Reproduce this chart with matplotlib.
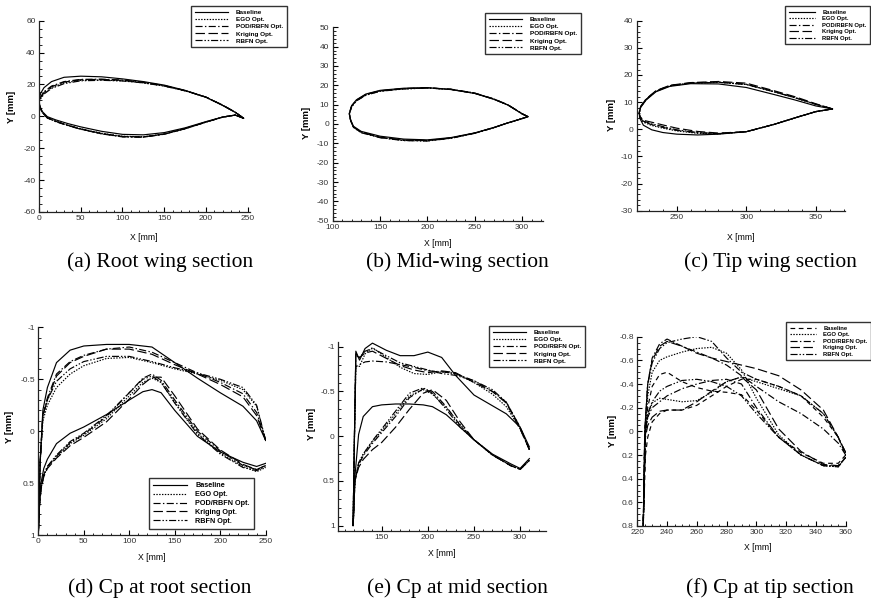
import matplotlib
matplotlib.use("Agg")
import matplotlib.pyplot as plt
from matplotlib.ticker import MultipleLocator, FormatStrFormatter

W, H = 871, 607

names = ["Baseline", "EGO Opt.", "POD/RBFN Opt.", "Kriging Opt.", "RBFN Opt."]

# ---- (a) root wing section, contour TE -> upper -> LE -> lower -> TE
root_x = [245, 235, 220, 200, 175, 150, 125, 100, 75, 50, 30, 15, 6, 2, 0,
          1, 4, 10, 20, 35, 50, 75, 100, 125, 150, 175, 200, 220, 235, 245]
root_base = [-1.2, 2.5, 6.8, 12.0, 16.3, 19.6, 21.8, 23.5, 24.8, 25.2, 24.5, 21.8, 18.0, 14.5, 10.0,
             6.5, 3.0, -0.2, -2.2, -4.6, -6.6, -9.4, -11.3, -11.6, -10.2, -7.2, -3.3, -0.4, 0.8, -1.2]
root_ego = [-1.2, 2.6, 7.0, 12.0, 16.0, 19.0, 21.0, 22.3, 22.8, 22.6, 21.0, 18.0, 14.5, 11.5, 9.0,
            6.0, 2.5, -0.8, -3.0, -5.6, -7.8, -10.6, -12.5, -12.8, -11.0, -7.6, -3.5, -0.5, 0.8, -1.2]
root_pod = [-1.2, 2.6, 7.0, 12.1, 16.2, 19.3, 21.4, 22.8, 23.3, 23.2, 21.8, 19.0, 15.5, 12.2, 9.2,
            6.0, 2.4, -1.0, -3.2, -5.8, -8.0, -10.9, -12.8, -13.0, -11.2, -7.8, -3.6, -0.5, 0.8, -1.2]
root_krig = [-1.2, 2.6, 7.0, 12.0, 16.1, 19.2, 21.3, 22.6, 23.2, 23.0, 21.5, 18.6, 15.0, 11.8, 9.1,
             6.0, 2.5, -0.9, -3.1, -5.7, -7.9, -10.8, -12.6, -12.9, -11.1, -7.7, -3.6, -0.5, 0.8, -1.2]
root_rbfn = [-1.2, 2.6, 7.0, 12.0, 16.0, 19.0, 21.0, 22.2, 22.6, 22.3, 20.5, 17.5, 14.0, 11.0, 8.8,
             5.8, 2.3, -1.0, -3.3, -5.9, -8.1, -11.0, -12.9, -13.1, -11.2, -7.8, -3.6, -0.5, 0.8, -1.2]

# ---- (b) mid-wing section
mid_x = [306, 300, 285, 270, 250, 225, 200, 175, 150, 135, 125, 120, 117.5,
         119, 122, 130, 150, 175, 200, 225, 250, 270, 285, 300, 306]
mid_base = [3.8, 5.2, 9.8, 12.8, 15.8, 17.8, 18.8, 18.5, 17.4, 15.5, 12.5, 9.5, 5.5,
            2.0, -1.2, -3.8, -6.3, -7.8, -8.2, -7.0, -4.6, -1.8, 0.6, 2.8, 3.8]
mid_ego = [3.8, 5.3, 9.9, 12.9, 15.9, 17.9, 18.6, 18.2, 17.0, 15.0, 12.0, 9.0, 5.2,
           1.6, -1.7, -4.4, -7.0, -8.5, -8.7, -7.3, -4.8, -1.9, 0.6, 2.8, 3.8]
mid_pod = [3.8, 5.3, 9.9, 13.0, 16.0, 18.0, 18.7, 18.3, 17.1, 15.2, 12.2, 9.2, 5.3,
           1.7, -1.6, -4.3, -6.9, -8.4, -8.6, -7.2, -4.7, -1.9, 0.6, 2.8, 3.8]
mid_krig = [3.8, 5.3, 9.9, 12.9, 15.9, 17.9, 18.7, 18.3, 17.2, 15.3, 12.3, 9.3, 5.4,
            1.8, -1.5, -4.2, -6.8, -8.3, -8.5, -7.2, -4.7, -1.9, 0.6, 2.8, 3.8]
mid_rbfn = [3.8, 5.3, 9.8, 12.9, 15.9, 17.9, 18.6, 18.1, 16.9, 14.9, 11.9, 8.9, 5.1,
            1.6, -1.8, -4.5, -7.1, -8.6, -8.8, -7.4, -4.8, -1.9, 0.6, 2.8, 3.8]

# ---- (c) tip wing section
tip_x = [362, 350, 335, 320, 300, 280, 260, 245, 235, 228, 224, 223,
         223.5, 226, 232, 240, 250, 265, 280, 300, 320, 335, 350, 362]
tip_base = [7.5, 8.6, 10.8, 12.8, 15.4, 16.7, 16.8, 15.8, 13.8, 10.8, 8.0, 6.0,
            4.0, 1.5, -0.2, -1.2, -1.8, -2.1, -1.8, -0.9, 1.8, 4.2, 6.5, 7.5]
tip_ego = [7.5, 9.2, 11.6, 13.8, 16.5, 17.3, 17.0, 16.0, 14.0, 11.0, 8.2, 6.0,
           4.4, 2.6, 1.4, 0.4, -0.6, -1.5, -1.7, -0.9, 1.8, 4.2, 6.5, 7.5]
tip_pod = [7.5, 9.2, 11.7, 13.9, 16.6, 17.4, 17.1, 16.1, 14.1, 11.1, 8.3, 6.0,
           4.5, 2.8, 1.7, 0.7, -0.4, -1.3, -1.6, -0.9, 1.8, 4.2, 6.5, 7.5]
tip_krig = [7.5, 9.4, 12.0, 14.2, 17.0, 17.6, 17.2, 16.2, 14.2, 11.2, 8.4, 6.1,
            4.8, 3.3, 2.6, 1.6, 0.4, -0.8, -1.4, -0.9, 1.8, 4.2, 6.5, 7.5]
tip_rbfn = [7.5, 9.2, 11.6, 13.8, 16.5, 17.3, 17.0, 16.0, 14.0, 11.0, 8.2, 6.0,
            4.6, 3.0, 2.0, 1.0, -0.2, -1.2, -1.6, -0.9, 1.8, 4.2, 6.5, 7.5]

# ---- (d) Cp at root section, TE -> upper -> LE -> lower -> TE
cpr_x = [250, 240, 225, 200, 175, 150, 125, 100, 75, 50, 35, 20, 10, 5, 2, 0,
         1, 3, 6, 10, 20, 35, 50, 75, 100, 115, 125, 135, 150, 175, 200, 225, 240, 250]
cpr_base = [0.09, -0.1, -0.24, -0.37, -0.51, -0.66, -0.81, -0.835, -0.835, -0.82, -0.78, -0.66, -0.42, -0.2, 0.3, 1.0,
            0.7, 0.5, 0.36, 0.27, 0.12, 0.02, -0.04, -0.16, -0.3, -0.38, -0.4, -0.37, -0.2, 0.05, 0.2, 0.3, 0.34, 0.31]
cpr_ego = [0.09, -0.24, -0.4, -0.49, -0.55, -0.6, -0.66, -0.71, -0.7, -0.63, -0.55, -0.42, -0.25, -0.1, 0.3, 1.0,
           0.75, 0.55, 0.43, 0.35, 0.25, 0.12, 0.04, -0.12, -0.34, -0.47, -0.51, -0.47, -0.28, 0.02, 0.21, 0.34, 0.39, 0.35]
cpr_pod = [0.09, -0.18, -0.36, -0.47, -0.56, -0.66, -0.76, -0.81, -0.79, -0.73, -0.67, -0.55, -0.32, -0.15, 0.3, 1.0,
           0.75, 0.55, 0.42, 0.34, 0.24, 0.11, 0.03, -0.14, -0.37, -0.51, -0.55, -0.49, -0.3, 0.0, 0.19, 0.33, 0.37, 0.33]
cpr_krig = [0.09, -0.15, -0.33, -0.45, -0.55, -0.64, -0.74, -0.79, -0.79, -0.72, -0.66, -0.53, -0.3, -0.15, 0.3, 1.0,
            0.75, 0.56, 0.44, 0.36, 0.26, 0.14, 0.06, -0.09, -0.31, -0.45, -0.52, -0.52, -0.34, -0.02, 0.18, 0.32, 0.37, 0.33]
cpr_rbfn = [0.09, -0.25, -0.42, -0.5, -0.56, -0.61, -0.67, -0.72, -0.72, -0.67, -0.6, -0.48, -0.3, -0.14, 0.3, 1.0,
            0.75, 0.55, 0.42, 0.34, 0.23, 0.1, 0.02, -0.15, -0.37, -0.5, -0.53, -0.47, -0.27, 0.03, 0.22, 0.35, 0.38, 0.34]

# ---- (e) Cp at mid section
cpm_x = [310, 300, 285, 270, 250, 230, 215, 200, 185, 170, 155, 140, 132, 126, 122, 120.5, 119,
         119.5, 121, 125, 130, 140, 150, 165, 180, 195, 205, 220, 235, 250, 270, 290, 300, 310]
cpm_base = [0.12, -0.1, -0.25, -0.34, -0.46, -0.68, -0.88, -0.94, -0.9, -0.9, -0.96, -1.04, -0.98, -0.85, -0.95, 0.0, 1.0,
            0.9, 0.45, -0.02, -0.22, -0.33, -0.35, -0.36, -0.36, -0.35, -0.33, -0.24, -0.1, 0.04, 0.2, 0.31, 0.36, 0.25]
cpm_ego = [0.15, -0.08, -0.33, -0.47, -0.6, -0.7, -0.72, -0.69, -0.7, -0.77, -0.88, -0.99, -0.92, -0.78, -0.78, 0.0, 1.0,
           0.9, 0.5, 0.3, 0.2, 0.06, -0.06, -0.25, -0.45, -0.52, -0.47, -0.32, -0.13, 0.04, 0.21, 0.33, 0.37, 0.27]
cpm_pod = [0.15, -0.1, -0.38, -0.5, -0.62, -0.7, -0.72, -0.73, -0.77, -0.8, -0.83, -0.84, -0.83, -0.8, -0.78, 0.0, 1.0,
           0.9, 0.5, 0.32, 0.22, 0.08, -0.04, -0.22, -0.43, -0.53, -0.5, -0.33, -0.12, 0.04, 0.21, 0.33, 0.37, 0.27]
cpm_krig = [0.15, -0.08, -0.37, -0.5, -0.6, -0.71, -0.73, -0.71, -0.74, -0.79, -0.87, -0.95, -0.93, -0.88, -0.9, 0.0, 1.0,
            0.9, 0.5, 0.35, 0.26, 0.15, 0.07, -0.1, -0.3, -0.48, -0.52, -0.4, -0.16, 0.04, 0.21, 0.33, 0.37, 0.27]
cpm_rbfn = [0.15, -0.1, -0.38, -0.52, -0.62, -0.68, -0.7, -0.74, -0.78, -0.82, -0.9, -0.98, -0.95, -0.88, -0.92, 0.0, 1.0,
            0.9, 0.5, 0.3, 0.2, 0.05, -0.08, -0.28, -0.48, -0.54, -0.48, -0.3, -0.1, 0.04, 0.21, 0.33, 0.37, 0.27]

# ---- (f) Cp at tip section
cpt_x = [360, 355, 345, 330, 315, 300, 290, 280, 270, 260, 250, 240, 235, 230, 227, 225, 224,
         224.5, 225.5, 227, 230, 235, 240, 250, 260, 270, 280, 290, 300, 315, 330, 345, 355, 360]
cpt_base = [0.2, 0.27, 0.27, 0.18, 0.05, -0.18, -0.31, -0.33, -0.34, -0.37, -0.42, -0.5, -0.48, -0.38, -0.2, 0.1, 0.8,
            0.6, 0.2, 0.05, -0.08, -0.15, -0.18, -0.18, -0.22, -0.3, -0.38, -0.44, -0.44, -0.38, -0.3, -0.12, 0.05, 0.2]
cpt_ego = [0.22, 0.3, 0.29, 0.2, 0.03, -0.28, -0.52, -0.66, -0.71, -0.7, -0.67, -0.63, -0.6, -0.5, -0.3, 0.1, 0.8,
           0.5, 0.0, -0.12, -0.24, -0.28, -0.27, -0.25, -0.26, -0.33, -0.42, -0.46, -0.42, -0.36, -0.3, -0.15, 0.05, 0.2]
cpt_pod = [0.2, 0.1, -0.02, -0.15, -0.25, -0.38, -0.47, -0.56, -0.62, -0.67, -0.72, -0.78, -0.74, -0.62, -0.4, 0.0, 0.8,
           0.5, 0.0, -0.12, -0.2, -0.25, -0.3, -0.36, -0.4, -0.43, -0.44, -0.4, -0.2, 0.05, 0.2, 0.29, 0.29, 0.22]
cpt_krig = [0.18, 0.05, -0.18, -0.35, -0.47, -0.53, -0.56, -0.59, -0.62, -0.66, -0.72, -0.76, -0.72, -0.6, -0.4, 0.0, 0.8,
            0.5, 0.05, -0.05, -0.12, -0.17, -0.18, -0.18, -0.25, -0.34, -0.42, -0.46, -0.35, -0.02, 0.17, 0.28, 0.29, 0.22]
cpt_rbfn = [0.18, 0.05, -0.15, -0.3, -0.38, -0.44, -0.5, -0.62, -0.76, -0.8, -0.78, -0.75, -0.7, -0.58, -0.4, 0.0, 0.8,
            0.5, 0.0, -0.15, -0.25, -0.34, -0.38, -0.43, -0.44, -0.42, -0.38, -0.3, -0.15, 0.05, 0.2, 0.29, 0.3, 0.22]

captions = ["(a) Root wing section", "(b) Mid-wing section", "(c) Tip wing section",
            "(d) Cp at root section", "(e) Cp at mid section", "(f) Cp at tip section"]

styles = ["-", (0, (1.2, 1.2)), (0, (6, 2, 1.2, 2)), (0, (8, 3)), (0, (6, 1.6, 1.2, 1.6, 1.2, 1.6))]
tip_cp_styles = [(0, (4, 3))] + styles[1:]

plt.rcParams["font.family"] = ["Liberation Sans", "DejaVu Sans"]
plt.rcParams["axes.unicode_minus"] = False
fig = plt.figure(figsize=(W / 100, H / 100), dpi=100)


def px_axes(l, t, r, b):
    return fig.add_axes([l / W, 1 - b / H, (r - l) / W, (b - t) / H])


def style_axes(ax, xlim, ylim, xmaj, xmin, ymaj, ymin):
    ax.set_xlim(*xlim)
    ax.set_ylim(*ylim)
    ax.xaxis.set_major_locator(MultipleLocator(xmaj))
    ax.xaxis.set_minor_locator(MultipleLocator(xmin))
    ax.yaxis.set_major_locator(MultipleLocator(ymaj))
    ax.yaxis.set_minor_locator(MultipleLocator(ymin))
    ax.xaxis.set_major_formatter(FormatStrFormatter("%g"))
    ax.yaxis.set_major_formatter(FormatStrFormatter("%g"))
    for s in ["top", "right"]:
        ax.spines[s].set_visible(False)
    for s in ["left", "bottom"]:
        ax.spines[s].set_linewidth(0.9)
        ax.spines[s].set_color("#222222")
    ax.tick_params(which="major", direction="in", length=3.5, width=0.8, labelsize=6,
                   labelcolor="#333333", pad=2.5)
    ax.tick_params(which="minor", direction="in", length=1.8, width=0.6)
    ax.patch.set_alpha(0)


def draw(ax, x, series, stys):
    for y, ls, nm in zip(series, stys, names):
        ax.plot(x, y, color="black", lw=0.85, ls=ls, label=nm)


def add_legend(ax, x0, y0, fs=4.6, hl=5.2):
    leg = ax.legend(loc="upper left", bbox_to_anchor=(x0 / W, 1 - y0 / H),
                    bbox_transform=fig.transFigure, fancybox=False, frameon=True,
                    prop={"size": fs, "weight": "bold"}, handlelength=hl,
                    handletextpad=1.2, labelspacing=0.25, borderpad=0.6, borderaxespad=0)
    leg.get_frame().set_edgecolor("black")
    leg.get_frame().set_linewidth(1.0)


def labels(xl, yl):
    fig.text(xl[0] / W, 1 - xl[1] / H, "X [mm]", ha="center", va="center", fontsize=6.2)
    fig.text(yl[0] / W, 1 - yl[1] / H, "Y [mm]", ha="center", va="center", fontsize=6.8,
             fontweight="bold", rotation=90)


# (a)
ax = px_axes(39, 20.7, 250, 212)
draw(ax, root_x, [root_base, root_ego, root_pod, root_krig, root_rbfn], styles)
style_axes(ax, (0, 252.7), (-60, 60), 50, 10, 20, 5)
add_legend(ax, 191, 6)
labels((144, 238), (12, 107))

# (b)
ax = px_axes(332.7, 27.3, 543, 220.7)
draw(ax, mid_x, [mid_base, mid_ego, mid_pod, mid_krig, mid_rbfn], styles)
style_axes(ax, (100, 322), (-50, 50), 50, 10, 10, 2)
add_legend(ax, 485, 13)
labels((438, 243), (306, 123))

# (c)
ax = px_axes(636.7, 20.7, 845, 210.7)
draw(ax, tip_x, [tip_base, tip_ego, tip_pod, tip_krig, tip_rbfn], styles)
style_axes(ax, (221.2, 371), (-30, 40), 50, 10, 10, 2)
add_legend(ax, 785, 6, fs=4.2, hl=4.6)
labels((741, 238), (611, 115))

# (d)
ax = px_axes(38.3, 327.3, 265.7, 535)
draw(ax, cpr_x, [cpr_base, cpr_ego, cpr_pod, cpr_krig, cpr_rbfn], styles)
style_axes(ax, (0, 250), (1, -1), 50, 10, 0.5, 0.1)
add_legend(ax, 149, 478, fs=5.2, hl=4.6)
labels((152, 558), (10, 427))

# (e)
ax = px_axes(338.3, 341.7, 546, 530.7)
draw(ax, cpm_x, [cpm_base, cpm_ego, cpm_pod, cpm_krig, cpm_rbfn], styles)
style_axes(ax, (103, 328), (1.056, -1.056), 50, 10, 0.5, 0.1)
add_legend(ax, 489, 326)
labels((442, 553), (311, 424))

# (f)
ax = px_axes(637.3, 336.7, 845.7, 526)
draw(ax, cpt_x, [cpt_base, cpt_ego, cpt_pod, cpt_krig, cpt_rbfn], tip_cp_styles)
style_axes(ax, (220, 360), (0.8, -0.8), 20, 5, 0.2, 0.05)
add_legend(ax, 786, 322, fs=4.2, hl=4.6)
labels((758, 548), (612, 431))

cap_pos = [(160, 262), (457, 262), (770, 262), (160, 588), (457, 588), (770, 588)]
for (cx, cy), txt in zip(cap_pos, captions):
    fig.text(cx / W, 1 - cy / H, txt, ha="center", va="center", fontsize=15.5,
             family=["Liberation Serif", "DejaVu Serif"])

fig.savefig("out.png", dpi=100)
